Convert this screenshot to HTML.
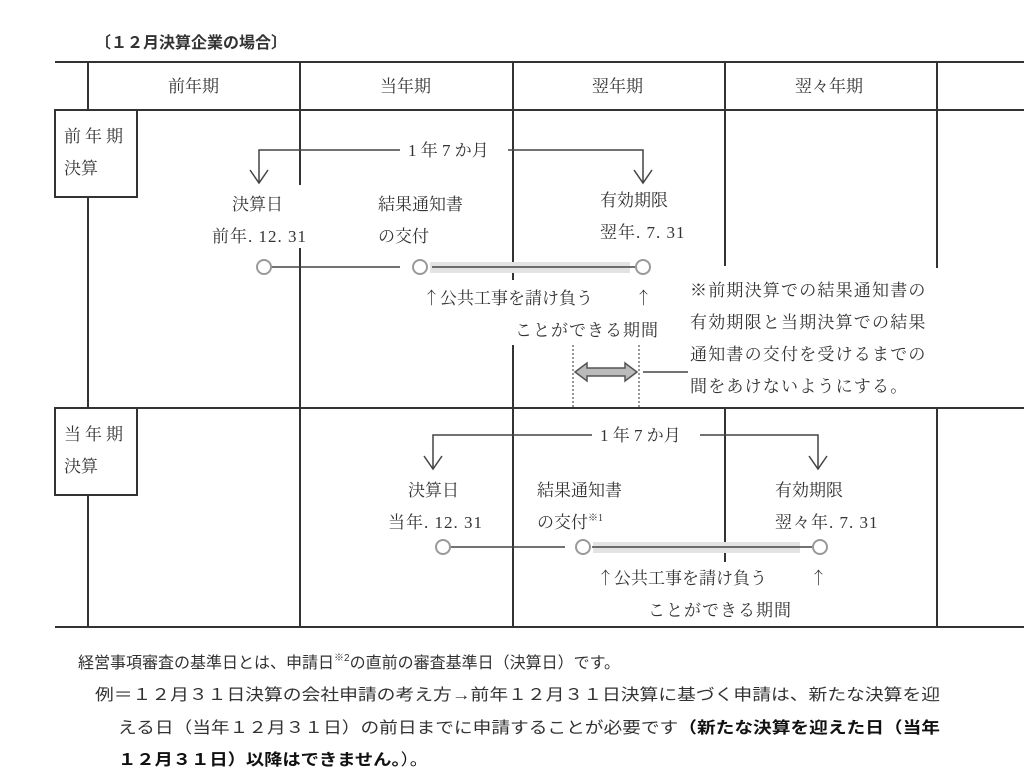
<!DOCTYPE html>
<html><head><meta charset="utf-8"><style>
html,body{margin:0;padding:0;background:#fff}
svg{display:block}
.s{font-family:"Liberation Serif","Noto Serif CJK JP","Noto Serif CJK SC",serif;font-size:17px;fill:#333}
.g{font-family:"Liberation Sans","Noto Sans CJK JP",sans-serif;font-size:16px;fill:#333}
.a{font-family:"Noto Serif CJK JP","Noto Sans CJK JP",serif}
</style></head><body>
<svg width="1024" height="781" viewBox="0 0 1024 781" xmlns="http://www.w3.org/2000/svg">
<text class="g" x="95" y="48" font-weight="bold" font-size="15">〔１２月決算企業の場合〕</text>
<g stroke="#333" stroke-width="2" fill="none">
<line x1="55" y1="62" x2="1024" y2="62"/>
<line x1="55" y1="110" x2="1024" y2="110"/>
<line x1="55" y1="408" x2="1024" y2="408"/>
<line x1="55" y1="627" x2="1024" y2="627"/>
<line x1="88" y1="62" x2="88" y2="110"/>
<line x1="88" y1="197" x2="88" y2="408"/>
<line x1="88" y1="495" x2="88" y2="627"/>
<line x1="300" y1="62" x2="300" y2="185"/>
<line x1="300" y1="248" x2="300" y2="627"/>
<line x1="513" y1="62" x2="513" y2="280"/>
<line x1="513" y1="345" x2="513" y2="627"/>
<line x1="725" y1="62" x2="725" y2="266"/>
<line x1="725" y1="408" x2="725" y2="562"/>
<line x1="937" y1="62" x2="937" y2="268"/>
<line x1="937" y1="408" x2="937" y2="627"/>
<rect x="55" y="110" width="82" height="87" fill="#fff"/>
<rect x="55" y="408" width="82" height="87" fill="#fff"/>
</g>
<g class="s">
<text x="168" y="92">前年期</text>
<text x="380" y="92">当年期</text>
<text x="592" y="92">翌年期</text>
<text x="795" y="92">翌々年期</text>
<text x="64" y="142" letter-spacing="4">前年期</text>
<text x="64" y="174">決算</text>
<text x="64" y="440" letter-spacing="4">当年期</text>
<text x="64" y="472">決算</text>
</g>
<g stroke="#444" stroke-width="1.5" fill="none">
<polyline points="259,182 259,150 400,150"/>
<polyline points="508,150 643,150 643,182"/>
<polyline points="250,170 259,183 268,170"/>
<polyline points="634,170 643,183 652,170"/>
<polyline points="433,468 433,435 592,435"/>
<polyline points="700,435 818,435 818,468"/>
<polyline points="424,456 433,469 442,456"/>
<polyline points="809,456 818,469 827,456"/>
</g>
<rect x="430" y="262" width="200" height="11" fill="#e3e3e3"/>
<rect x="593" y="542" width="207" height="11" fill="#e3e3e3"/>
<g stroke="#444" stroke-width="1.5" fill="none">
<line x1="271" y1="267" x2="400" y2="267"/>
<line x1="432" y1="267" x2="636" y2="267"/>
<line x1="450" y1="547" x2="565" y2="547"/>
<line x1="592" y1="547" x2="813" y2="547"/>
</g>
<g stroke="#999" stroke-width="2" fill="#fff">
<circle cx="264" cy="267" r="7"/><circle cx="420" cy="267" r="7"/><circle cx="643" cy="267" r="7"/>
<circle cx="443" cy="547" r="7"/><circle cx="583" cy="547" r="7"/><circle cx="820" cy="547" r="7"/>
</g>
<g stroke="#555" stroke-width="1.2" stroke-dasharray="2,2">
<line x1="573" y1="345" x2="573" y2="407"/><line x1="639" y1="345" x2="639" y2="407"/>
</g>
<polygon points="575,372 587,363 587,368 625,368 625,363 637,372 625,381 625,376 587,376 587,381" fill="#bbb" stroke="#555" stroke-width="1.5"/>
<line x1="643" y1="372" x2="688" y2="372" stroke="#444" stroke-width="1.5"/>
<g class="s">
<text x="408" y="156">1 年 7 か月</text>
<text x="232" y="210">決算日</text>
<text x="212" y="242" letter-spacing="1">前年. 12. 31</text>
<text x="378" y="210">結果通知書</text>
<text x="378" y="242">の交付</text>
<text x="600" y="206">有効期限</text>
<text x="600" y="238" letter-spacing="1">翌年. 7. 31</text>
<text x="423" y="304"><tspan class="a">↑</tspan>公共工事を請け負う</text>
<text x="635" y="304" class="s a">↑</text>
<text x="515" y="336" letter-spacing="1">ことができる期間</text>
<text x="690" y="296" letter-spacing="1.2">※前期決算での結果通知書の</text>
<text x="690" y="328" letter-spacing="1.2">有効期限と当期決算での結果</text>
<text x="690" y="360" letter-spacing="1.2">通知書の交付を受けるまでの</text>
<text x="690" y="392" letter-spacing="1.2">間をあけないようにする。</text>
<text x="600" y="441">1 年 7 か月</text>
<text x="408" y="496">決算日</text>
<text x="388" y="528" letter-spacing="1">当年. 12. 31</text>
<text x="537" y="496">結果通知書</text>
<text x="537" y="528">の交付<tspan font-size="10" dy="-7">※1</tspan></text>
<text x="775" y="496">有効期限</text>
<text x="775" y="528" letter-spacing="1">翌々年. 7. 31</text>
<text x="597" y="584"><tspan class="a">↑</tspan>公共工事を請け負う</text>
<text x="810" y="584" class="s a">↑</text>
<text x="648" y="616" letter-spacing="1">ことができる期間</text>
</g>
<g class="g">
<text x="78" y="668">経営事項審査の基準日とは、申請日<tspan font-size="10" dy="-7">※2</tspan><tspan dy="7">の直前の審査基準日（決算日）です。</tspan></text>
<text x="95" y="700" textLength="845" lengthAdjust="spacingAndGlyphs">例＝１２月３１日決算の会社申請の考え方→前年１２月３１日決算に基づく申請は、新たな決算を迎</text>
<text x="118" y="733" textLength="822" lengthAdjust="spacingAndGlyphs">える日（当年１２月３１日）の前日までに申請することが必要です<tspan font-weight="bold" fill="#111">（新たな決算を迎えた日（当年</tspan></text>
<text x="118" y="765" font-weight="bold" fill="#111" textLength="310" lengthAdjust="spacingAndGlyphs">１２月３１日）以降はできません。<tspan font-weight="normal">）。</tspan></text>
</g>
</svg>
</body></html>
